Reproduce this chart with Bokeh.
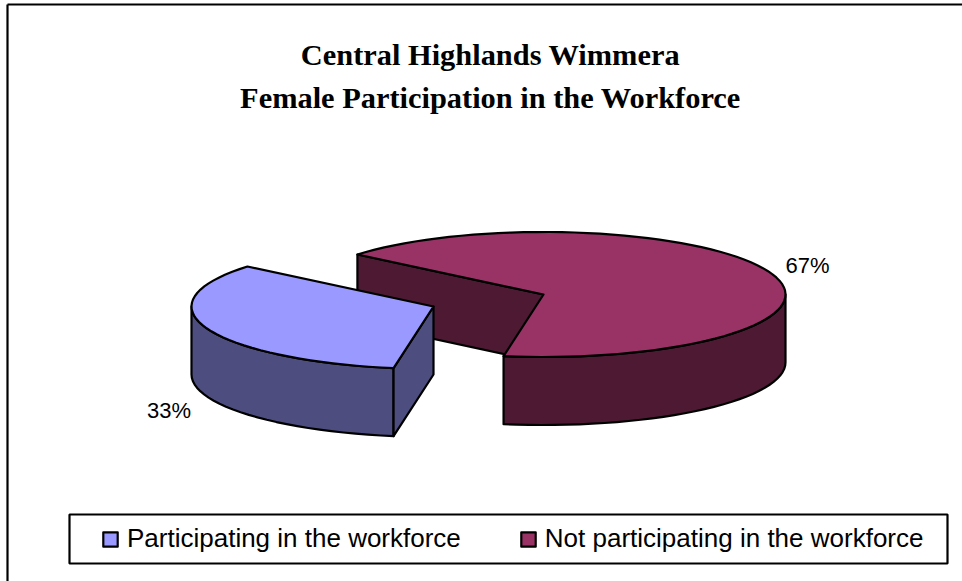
import numpy as np
from bokeh.plotting import figure
from bokeh.models import Range1d, Legend, LegendItem
from bokeh.core.properties import value
from bokeh.embed import file_html
from bokeh.resources import INLINE

title_lines = ["Central Highlands Wimmera", "Female Participation in the Workforce"]
categories = ["Participating in the workforce", "Not participating in the workforce"]
shares = [33.4, 66.6]
labels = ["33%", "67%"]
top_colors = ["#9999FF", "#993366"]
side_colors = ["#4D4D80", "#4D1933"]

W, H = 962, 581
p = figure(width=W, height=H, output_backend="svg", toolbar_location=None,
           x_range=Range1d(0, W), y_range=Range1d(H, 0), min_border=0,
           outline_line_color=None, background_fill_color="white", border_fill_color="white")
p.margin = (0, 0, 0, 0)
p.xaxis.visible = False
p.yaxis.visible = False
p.grid.visible = False

CX, CY, RX, RY, DEPTH = 543.0, 294.0, 242.0, 62.5, 68.0
START = 189.5
EXPLODE = (-110.0, 12.0)
LW = 2.2


def pt(a, ox=0.0, oy=0.0, dz=0.0):
    r = np.radians(a)
    return CX + ox + RX * np.sin(r), CY + oy - RY * np.cos(r) + dz


def arc(a0, a1, ox=0.0, oy=0.0, dz=0.0):
    a = np.linspace(a0, a1, max(int(abs(a1 - a0) / 3), 2) + 1)
    x, y = pt(a, ox, oy, dz)
    return list(x), list(y)


def poly(xs, ys, color):
    return p.patch(xs, ys, fill_color=color, line_color="black", line_width=LW, line_join="round")


sweep0 = 360.0 * shares[0] / sum(shares)
b0, b1 = START, START + sweep0      # blue slice
r0, r1 = b1, START + 360.0          # red slice

# --- red slice (not exploded) ---
ex, ey = pt(r0)
poly([ex, CX, CX, ex], [ey, CY, CY + DEPTH, ey + DEPTH], side_colors[1])
x1, y1 = arc(90, r1 - 360)
x2, y2 = arc(90, r1 - 360, dz=DEPTH)
poly(x1 + x2[::-1], y1 + y2[::-1], side_colors[1])
xt, yt = arc(r0, r1)
red_top = poly(xt + [CX], yt + [CY], top_colors[1])

# --- blue slice (exploded) ---
ox, oy = EXPLODE
x1, y1 = arc(b0, 270, ox, oy)
x2, y2 = arc(b0, 270, ox, oy, DEPTH)
poly(x1 + x2[::-1], y1 + y2[::-1], side_colors[0])
ex, ey = pt(b0, ox, oy)
poly([CX + ox, ex, ex, CX + ox], [CY + oy, ey, ey + DEPTH, CY + oy + DEPTH], side_colors[0])
xt, yt = arc(b0, b1, ox, oy)
blue_top = poly(xt + [CX + ox], yt + [CY + oy], top_colors[0])

# --- frame of the chart area (open to right and bottom of the window) ---
p.line([7, 7], [H, 4], line_color="black", line_width=LW)
p.line([7, W], [4, 4], line_color="black", line_width=LW)

# --- title ---
p.text([490, 490], [54, 97], text=title_lines, text_font=value("Liberation Serif"),
       text_font_style="bold", text_font_size="30.4px", text_align="center",
       text_baseline="middle", text_color="black")

# --- data labels ---
p.text([168.5, 807], [410, 265], text=labels, text_font=value("Liberation Sans"),
       text_font_size="22px", text_align="center", text_baseline="middle", text_color="black")

# --- legend ---
p.quad(left=[69], right=[947], top=[514], bottom=[563], fill_color=None,
       line_color="black", line_width=LW)
legend = Legend(items=[LegendItem(label=categories[0], renderers=[blue_top]),
                       LegendItem(label=categories[1], renderers=[red_top])],
                orientation="horizontal", location=(101, H - 554), margin=0, padding=0,
                spacing=58, glyph_width=18, glyph_height=18, label_standoff=8,
                label_text_font="Liberation Sans", label_text_font_size="26px",
                label_text_color="black", border_line_color=None,
                background_fill_alpha=0, label_height=30)
p.add_layout(legend, "center")

open("out.html", "w").write(file_html(p, INLINE))
